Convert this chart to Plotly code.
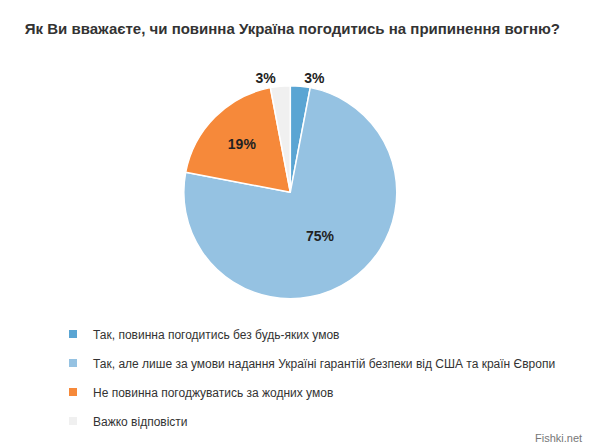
import plotly.graph_objects as go

TITLE = "Як Ви вважаєте, чи повинна Україна погодитись на припинення вогню?"
CATEGORIES = [
    "Так, повинна погодитись без будь-яких умов",
    "Так, але лише за умови надання Україні гарантій безпеки від США та країн Європи",
    "Не повинна погоджуватись за жодних умов",
    "Важко відповісти",
]
VALUES = [3, 75, 19, 3]
COLORS = ["#5aa5d3", "#95c2e2", "#f6893a", "#f0f0f0"]
LABELS = [f"{v}%" for v in VALUES]

fig = go.Figure()
fig.add_pie(
    labels=CATEGORIES, values=VALUES, sort=False, direction="clockwise", rotation=0,
    marker={"colors": COLORS, "line": {"color": "white", "width": 1.5}},
    text=LABELS, textinfo="text",
    textposition=["outside", "inside", "inside", "outside"],
    insidetextorientation="horizontal",
    textfont={"family": "Liberation Sans", "size": 14, "color": "#222"},
    texttemplate="<b>%{text}</b>",
    showlegend=False, hoverinfo="label+percent",
    domain={"x": [0.293, 0.648], "y": [0.346, 0.826]},
)
# legend entries as separate traces so rows can be spaced out
for name, color in zip(CATEGORIES, COLORS):
    fig.add_scatter(
        x=[None], y=[None], mode="markers", name=name, legendgroup=name,
        marker={"symbol": "square", "size": 8, "color": color},
    )

fig.update_layout(
    width=600, height=445, paper_bgcolor="white", plot_bgcolor="white",
    margin={"l": 0, "r": 0, "t": 0, "b": 0},
    title={"text": f"<b>{TITLE}</b>", "x": 0.028, "y": 0.965, "xanchor": "left",
           "font": {"family": "Liberation Sans", "size": 15, "color": "#333"}},
    xaxis={"visible": False}, yaxis={"visible": False},
    legend={"x": 0.075, "y": 0.3, "xanchor": "left", "yanchor": "top",
            "tracegroupgap": 10, "itemwidth": 30,
            "font": {"family": "Liberation Sans", "size": 12, "color": "#333"}},
    annotations=[{"text": "Fishki.net", "x": 0.96, "y": 0.015, "xref": "paper", "yref": "paper",
                  "xanchor": "right", "yanchor": "bottom", "showarrow": False,
                  "font": {"family": "Liberation Sans", "size": 11, "color": "#777"}}],
)
fig.write_html("out.html")
